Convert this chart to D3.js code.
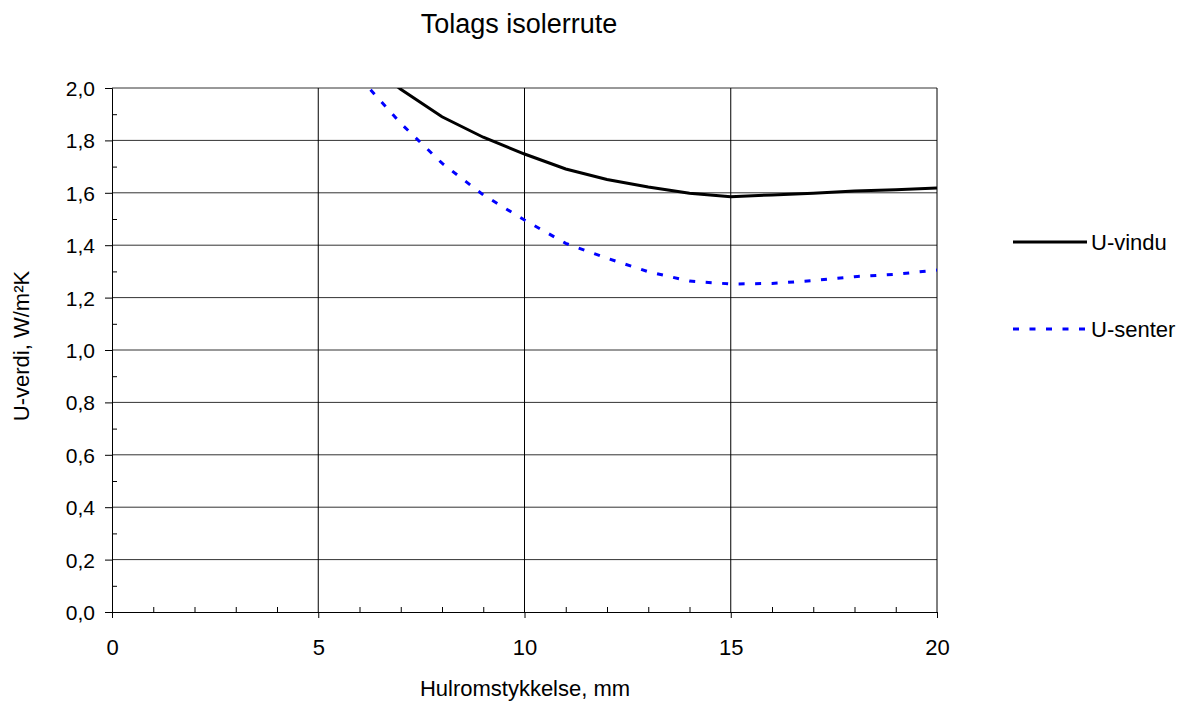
<!DOCTYPE html>
<html>
<head>
<meta charset="utf-8">
<script src="https://cdn.jsdelivr.net/npm/d3@7"></script>
<style>
  body { margin: 0; background: #fff; }
  text { font-family: "Liberation Sans", Arial, sans-serif; fill: #000; }
</style>
</head>
<body>
<div id="chart"></div>
<script>
// chart data
const thickness = [6, 7, 8, 9, 10, 11, 12, 13, 14, 15, 16, 17, 18, 19, 20];
const uVindu = [2.12, 1.995, 1.89, 1.812, 1.748, 1.691, 1.651, 1.622, 1.598, 1.585, 1.592, 1.598, 1.607, 1.612, 1.618];
const uSenter = [2.04, 1.865, 1.713, 1.592, 1.496, 1.407, 1.35, 1.299, 1.263, 1.252, 1.254, 1.265, 1.28, 1.289, 1.305];
const seriesNames = ["U-vindu", "U-senter"];
const xTicks = [0, 5, 10, 15, 20];
const yTicks = [0, 0.2, 0.4, 0.6, 0.8, 1.0, 1.2, 1.4, 1.6, 1.8, 2.0];

const W = 1179, H = 702;
const margin = { top: 88, right: 242, bottom: 90, left: 112 };
const width = W - margin.left - margin.right;
const height = H - margin.top - margin.bottom;

const svg = d3.select("#chart").append("svg")
  .attr("width", W)
  .attr("height", H);

const g = svg.append("g")
  .attr("transform", "translate(" + margin.left + "," + margin.top + ")");

const x = d3.scaleLinear().domain([0, 20]).range([0, width]);
const y = d3.scaleLinear().domain([0, 2]).range([height, 0]);

// horizontal gridlines
g.selectAll(".hgrid").data(yTicks.filter(d => d > 0)).enter()
  .append("line")
  .attr("x1", 0).attr("x2", width)
  .attr("y1", d => y(d)).attr("y2", d => y(d))
  .attr("stroke", "#333")
  .attr("stroke-width", 1);

// vertical gridlines
g.selectAll(".vgrid").data(xTicks.filter(d => d > 0)).enter()
  .append("line")
  .attr("x1", d => x(d)).attr("x2", d => x(d))
  .attr("y1", 0).attr("y2", height)
  .attr("stroke", "#000")
  .attr("stroke-width", 1);

// y axis: major ticks outside, minor inside
const yAxis = g.append("g")
  .call(d3.axisLeft(y).tickValues(yTicks).tickSize(7).tickPadding(10)
    .tickFormat(d => d3.format(".1f")(d).replace(".", ",")));
yAxis.select(".domain").attr("stroke", "#000");
yAxis.selectAll("text").style("font-size", "21px").attr("dy", "0.36em");

g.append("g")
  .call(d3.axisRight(y).tickValues(d3.range(0.1, 2, 0.2)).tickSize(5).tickFormat(""))
  .select(".domain").remove();

// x axis: major ticks outside, minor inside
const xAxis = g.append("g")
  .attr("transform", "translate(0," + height + ")")
  .call(d3.axisBottom(x).tickValues(xTicks).tickSize(6).tickPadding(21));
xAxis.select(".domain").attr("stroke", "#000");
xAxis.selectAll("text").style("font-size", "22px");

g.append("g")
  .attr("transform", "translate(0," + height + ")")
  .call(d3.axisTop(x).tickValues(d3.range(1, 20).filter(d => d % 5 !== 0)).tickSize(5).tickFormat(""))
  .select(".domain").remove();

// clip the lines to the plot area
svg.append("clipPath").attr("id", "plot-clip")
  .append("rect").attr("width", width).attr("height", height);

const line = d3.line()
  .x((d, i) => x(thickness[i]))
  .y(d => y(d));

const plot = g.append("g").attr("clip-path", "url(#plot-clip)");

plot.append("path")
  .datum(uVindu)
  .attr("fill", "none")
  .attr("stroke", "#000")
  .attr("stroke-width", 3)
  .attr("d", line);

plot.append("path")
  .datum(uSenter)
  .attr("fill", "none")
  .attr("stroke", "#0000ff")
  .attr("stroke-width", 3)
  .attr("stroke-dasharray", "6,10.5")
  .attr("d", line);

// title
svg.append("text")
  .attr("x", 519).attr("y", 33)
  .attr("text-anchor", "middle")
  .style("font-size", "27px")
  .text("Tolags isolerrute");

// axis titles
svg.append("text")
  .attr("x", 525).attr("y", 696)
  .attr("text-anchor", "middle")
  .style("font-size", "22px")
  .text("Hulromstykkelse, mm");

svg.append("text")
  .attr("transform", "translate(29,346) rotate(-90)")
  .attr("text-anchor", "middle")
  .style("font-size", "22px")
  .text("U-verdi, W/m²K");

// legend
const legend = svg.append("g").attr("transform", "translate(1013,0)");
const legendY = [242, 329];

legend.selectAll(".legend-line").data(seriesNames).enter()
  .append("line")
  .attr("x1", 0).attr("x2", 74)
  .attr("y1", (d, i) => legendY[i]).attr("y2", (d, i) => legendY[i])
  .attr("stroke", (d, i) => i === 0 ? "#000" : "#0000ff")
  .attr("stroke-width", 3)
  .attr("stroke-dasharray", (d, i) => i === 0 ? null : "6,10.5");

legend.selectAll(".legend-text").data(seriesNames).enter()
  .append("text")
  .attr("x", 78)
  .attr("y", (d, i) => legendY[i] + 8)
  .style("font-size", "22px")
  .text(d => d);
</script>
</body>
</html>
